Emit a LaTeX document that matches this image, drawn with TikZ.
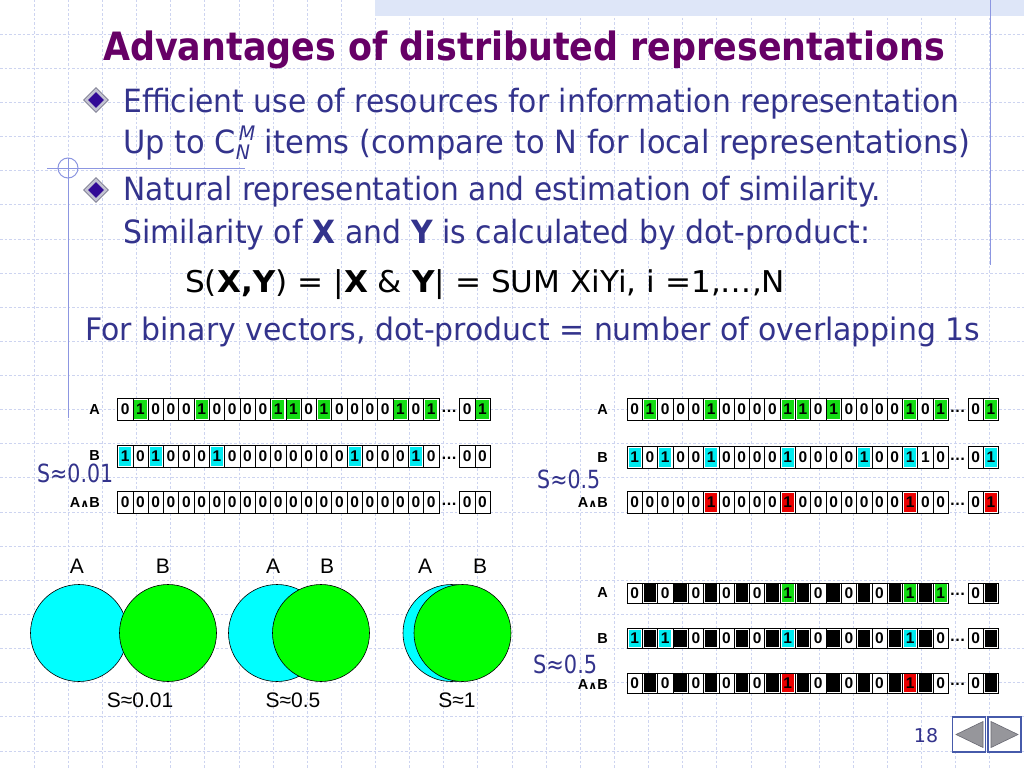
\documentclass[tikz,border=0pt]{standalone}
\usepackage{fontspec}
\usepackage{graphicx}
\setmainfont{DejaVu Sans}
\newfontfamily\arial{Liberation Sans}
\newfontfamily\djv{DejaVu Sans}
\usetikzlibrary{shapes.geometric}
\definecolor{txt}{RGB}{51,51,140}
\definecolor{ttl}{RGB}{102,0,102}
\definecolor{gridc}{RGB}{205,212,240}
\definecolor{linec}{RGB}{140,150,225}
\definecolor{band}{RGB}{222,230,248}
\colorlet{cn}{white}
\definecolor{cg}{RGB}{20,220,20}
\definecolor{cc}{RGB}{0,235,240}
\definecolor{cr}{RGB}{235,0,0}
\colorlet{ck}{black}
\definecolor{bulo}{RGB}{195,195,210}
\definecolor{bulb}{RGB}{120,120,140}
\definecolor{buli}{RGB}{50,10,150}
\definecolor{navb}{RGB}{70,90,170}
\definecolor{navt}{RGB}{150,150,155}
\newcommand\fitto[2]{\resizebox{#1}{\height}{#2}}
\newcommand\bitcells[5]{%
  \foreach \s/\d [count=\k] in {#5} {
    \node[bitcell, minimum height=#4pt,
      path picture={\fill[fill=\s] ([xshift=1.5pt,yshift=1.2pt]path picture bounding box.south west) rectangle ([xshift=-1.5pt,yshift=-1.2pt]path picture bounding box.north east);}]
      (#1-\k) at ({#2+(\k-0.5)*15.3},#3) {\d};
  }}
\tikzset{
  gridl/.style={draw=gridc, line width=0.8pt, dash pattern=on 2.5pt off 2pt},
  deco/.style={draw=linec, line width=1pt},
  body/.style={font=\fontsize{32}{38}\selectfont, text=txt, inner sep=0pt, anchor=base west},
  bitcell/.style={draw=black, line width=0.6pt, minimum width=15.3pt, inner sep=0pt,
    font=\arial\bfseries\fontsize{15.5}{15.5}\selectfont, text=black, fill=white},
  dotsn/.style={font=\arial\bfseries\fontsize{16}{16}\selectfont, inner sep=0pt},
  rowlab/.style={font=\arial\bfseries\fontsize{14.5}{15}\selectfont, inner sep=0pt, anchor=east},
  slab/.style={font=\fontsize{25}{25}\selectfont, text=txt, inner sep=0pt, anchor=base west},
  clab/.style={font=\arial\fontsize{21}{21}\selectfont, inner sep=0pt, anchor=base},
  cyanc/.style={circle, draw=black, line width=0.6pt, fill={rgb,255:red,0;green,255;blue,255}, minimum size=97pt, inner sep=0pt},
  greenc/.style={circle, draw=black, line width=0.6pt, fill={rgb,255:red,0;green,255;blue,0}, minimum size=97pt, inner sep=0pt},
  navbox/.style={draw=navb, line width=1.3pt, fill=white, minimum width=33pt, minimum height=35pt, inner sep=0pt},
  navtri/.style={fill=navt, draw={rgb,255:red,105;green,105;blue,115}, line width=0.6pt},
  bulout/.style={diamond, minimum width=25pt, minimum height=25pt, inner sep=0pt, fill=bulo, draw=bulb, line width=0.6pt},
  bulin/.style={diamond, minimum width=16pt, minimum height=16pt, inner sep=0pt, fill=buli}
}
\begin{document}
\begin{tikzpicture}[x=1pt,y=-1pt]
\useasboundingbox (0,0) rectangle (1024,768);
\fill[white] (0,0) rectangle (1024,768);
% grid
\foreach \i in {1,...,29} {\draw[gridl] ({\i*34.133},0) -- ({\i*34.133},768);}
\foreach \j in {1,...,22} {\draw[gridl] (0,{\j*34.133}) -- (1024,{\j*34.133});}
% decorations
\fill[band] (375,0) rectangle (1024,16);
\draw[deco] (990,0) -- (990,265);
\draw[deco] (47,168) -- (245,168);
\draw[deco] (68,158) -- (68,418);
\draw[deco] (68,168) circle[radius=10pt];
% title and text
\node[font=\bfseries\fontsize{39}{44}\selectfont, text=ttl, inner sep=0pt, anchor=base west] (title) at (103,60) {\fitto{842pt}{Advantages of distributed representations}};
\node[bulout] (b1) at (96,100) {};
\node[bulin] (b1i) at (96,100) {};
\node[bulout] (b2) at (96,190) {};
\node[bulin] (b2i) at (96,190) {};
\node[body] (l1) at (123,112) {\fitto{836pt}{Efficient use of resources for information representation}};
\node[body] (l2) at (123,153) {\fitto{847pt}{Up to C\rlap{\raisebox{-6pt}{\fontsize{20}{20}\selectfont\itshape N}}\raisebox{13pt}{\hspace{3pt}\fontsize{20}{20}\selectfont\itshape M} items (compare to N for local representations)}};
\node[body] (l3) at (123,200) {\fitto{758pt}{Natural representation and estimation of similarity.}};
\node[body] (l4) at (123,243) {\fitto{747pt}{Similarity of \textbf{X} and \textbf{Y} is calculated by dot-product:}};
\node[body, text=black, font=\fontsize{30}{36}\selectfont] (l5) at (185,292) {\fitto{600pt}{S(\textbf{X,Y}) = |\textbf{X} \& \textbf{Y}| = SUM XiYi, i =1,…,N}};
\node[body, font=\fontsize{31}{36}\selectfont] (l6) at (85,340) {\fitto{895pt}{For binary vectors, dot-product = number of overlapping 1s}};
% left vectors
\node[rowlab] (LAl) at (100,409.5) {A};
\node[rowlab] (LBl) at (100,455.5) {B};
\node[rowlab] (LCl) at (100,502.5) {A{\djv\fontsize{11}{11}\selectfont ∧}B};
\bitcells{LA}{117.5}{409.5}{22}{cn/0,cg/1,cn/0,cn/0,cn/0,cg/1,cn/0,cn/0,cn/0,cn/0,cg/1,cg/1,cn/0,cg/1,cn/0,cn/0,cn/0,cn/0,cg/1,cn/0,cg/1}
\node[dotsn] (LAd) at (449,411) {…};
\bitcells{LAt}{459.5}{409.5}{22}{cn/0,cg/1}
\bitcells{LB}{117.5}{456.5}{22}{cc/1,cn/0,cc/1,cn/0,cn/0,cn/0,cc/1,cn/0,cn/0,cn/0,cn/0,cn/0,cn/0,cn/0,cn/0,cc/1,cn/0,cn/0,cn/0,cc/1,cn/0}
\node[dotsn] (LBd) at (449,458) {…};
\bitcells{LBt}{459.5}{456.5}{22}{cn/0,cn/0}
\bitcells{LC}{117.5}{502.5}{22}{cn/0,cn/0,cn/0,cn/0,cn/0,cn/0,cn/0,cn/0,cn/0,cn/0,cn/0,cn/0,cn/0,cn/0,cn/0,cn/0,cn/0,cn/0,cn/0,cn/0,cn/0}
\node[dotsn] (LCd) at (449,504) {…};
\bitcells{LCt}{459.5}{502.5}{22}{cn/0,cn/0}
\node[slab] (LS) at (37,482) {\fitto{76pt}{S≈0.01}};
% right vectors
\node[rowlab] (RAl) at (608,409.5) {A};
\node[rowlab] (RBl) at (608,457.5) {B};
\node[rowlab] (RCl) at (608,502.5) {A{\djv\fontsize{11}{11}\selectfont ∧}B};
\bitcells{RA}{627}{409.5}{22}{cn/0,cg/1,cn/0,cn/0,cn/0,cg/1,cn/0,cn/0,cn/0,cn/0,cg/1,cg/1,cn/0,cg/1,cn/0,cn/0,cn/0,cn/0,cg/1,cn/0,cg/1}
\node[dotsn] (RAd) at (957.5,411) {…};
\bitcells{RAt}{968}{409.5}{22}{cn/0,cg/1}
\bitcells{RB}{627}{457.5}{22}{cc/1,cn/0,cc/1,cn/0,cn/0,cc/1,cn/0,cn/0,cn/0,cn/0,cc/1,cn/0,cn/0,cn/0,cn/0,cc/1,cn/0,cn/0,cc/1,cn/1,cn/0}
\node[dotsn] (RBd) at (957.5,459) {…};
\bitcells{RBt}{968}{457.5}{22}{cn/0,cc/1}
\bitcells{RC}{627}{502.5}{22}{cn/0,cn/0,cn/0,cn/0,cn/0,cr/1,cn/0,cn/0,cn/0,cn/0,cr/1,cn/0,cn/0,cn/0,cn/0,cn/0,cn/0,cn/0,cr/1,cn/0,cn/0}
\node[dotsn] (RCd) at (957.5,504) {…};
\bitcells{RCt}{968}{502.5}{22}{cn/0,cr/1}
\node[slab] (RS) at (537,488) {\fitto{63pt}{S≈0.5}};
% bottom right vectors
\node[rowlab] (QAl) at (608,593) {A};
\node[rowlab] (QBl) at (608,638.5) {B};
\node[rowlab] (QCl) at (608,685) {A{\djv\fontsize{11}{11}\selectfont ∧}B};
\bitcells{QA}{627}{593}{20}{cn/0,ck/{},cn/0,ck/{},cn/0,ck/{},cn/0,ck/{},cn/0,ck/{},cg/1,ck/{},cn/0,ck/{},cn/0,ck/{},cn/0,ck/{},cg/1,ck/{},cg/1}
\node[dotsn] (QAd) at (957.5,594.5) {…};
\bitcells{QAt}{968}{593}{20}{cn/0,ck/{}}
\bitcells{QB}{627}{638.5}{20}{cc/1,ck/{},cc/1,ck/{},cn/0,ck/{},cn/0,ck/{},cn/0,ck/{},cc/1,ck/{},cn/0,ck/{},cn/0,ck/{},cn/0,ck/{},cc/1,ck/{},cn/0}
\node[dotsn] (QBd) at (957.5,640) {…};
\bitcells{QBt}{968}{638.5}{20}{cn/0,ck/{}}
\bitcells{QC}{627}{683}{20}{cn/0,ck/{},cn/0,ck/{},cn/0,ck/{},cn/0,ck/{},cn/0,ck/{},cr/1,ck/{},cn/0,ck/{},cn/0,ck/{},cn/0,ck/{},cr/1,ck/{},cn/0}
\node[dotsn] (QCd) at (957.5,684.5) {…};
\bitcells{QCt}{968}{683}{20}{cn/0,ck/{}}
\node[slab] (QS) at (533,673) {\fitto{64pt}{S≈0.5}};
% circles
\node[cyanc] (c1a) at (79,633) {};
\node[greenc] (c1b) at (168,633) {};
\node[cyanc] (c2a) at (277,633) {};
\node[greenc] (c2b) at (321,633) {};
\node[cyanc] (c3a) at (451.5,633) {};
\node[greenc] (c3b) at (462.5,633) {};
\node[clab] (t1a) at (77,573) {A};
\node[clab] (t1b) at (163,573) {B};
\node[clab] (t2a) at (273,573) {A};
\node[clab] (t2b) at (327,573) {B};
\node[clab] (t3a) at (425,573) {A};
\node[clab] (t3b) at (480,573) {B};
\node[clab] (s1) at (140,707) {S≈0.01};
\node[clab] (s2) at (293,707) {S≈0.5};
\node[clab] (s3) at (457,707) {S≈1};
% page number and navigation
\node[font=\fontsize{19}{19}\selectfont, text=txt, inner sep=0pt, anchor=base] (pg) at (926,742) {18};
\node[navbox] (prevb) at (969,734.5) {};
\node[navbox] (nextb) at (1004.5,734.5) {};
\filldraw[navtri] (956,734.5) -- (983,721.5) -- (983,747.5) -- cycle;
\filldraw[navtri] (991,721.5) -- (1018,734.5) -- (991,747.5) -- cycle;
\end{tikzpicture}
\end{document}
